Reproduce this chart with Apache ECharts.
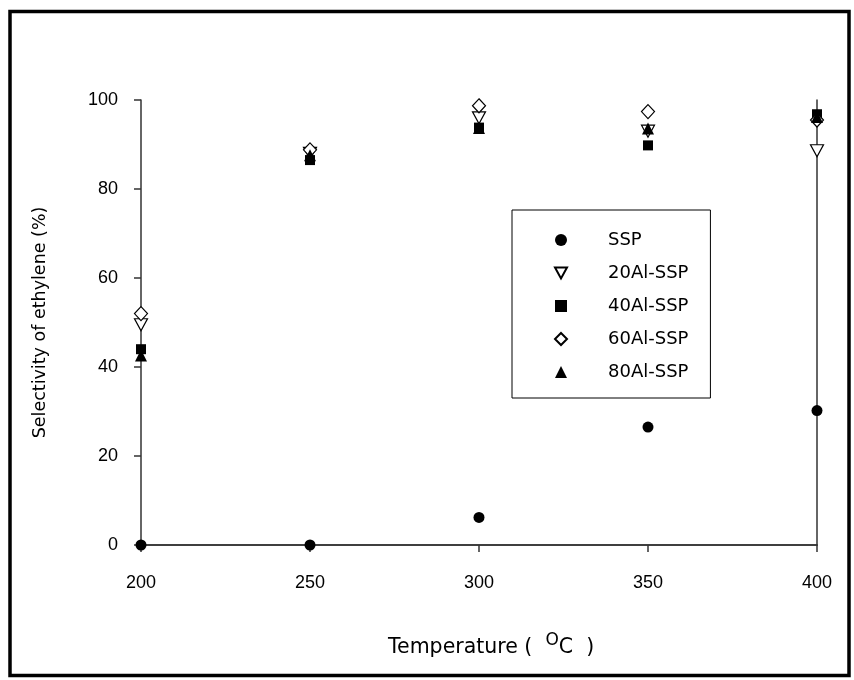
<!DOCTYPE html>
<html>
<head>
<meta charset="utf-8">
<script src="https://cdn.jsdelivr.net/npm/echarts@6/dist/echarts.min.js"></script>
<style>
html,body{margin:0;padding:0;background:#fff;}
#chart{width:854px;height:680px;}
</style>
</head>
<body>
<div id="chart"></div>
<script>
var temperatures = [200, 250, 300, 350, 400];
var xTicks = [200, 250, 300, 350, 400];
var yTicks = [0, 20, 40, 60, 80, 100];
var seriesNames = ['SSP', '20Al-SSP', '40Al-SSP', '60Al-SSP', '80Al-SSP'];
var ssp    = [0, 0, 6.2, 26.5, 30.2];
var al20   = [49.5, 88, 96, 93, 88.6];
var al40   = [44, 86.5, 93.8, 89.8, 96.8];
var al60   = [52, 88.8, 98.7, 97.4, 95.5];
var al80   = [42.6, 87.6, 93.7, 93.6, 96.2];

function pairs(vals){ return temperatures.map(function(t,i){ return [t, vals[i]]; }); }

var downTri = 'path://M0,0 L10,0 L5,9 Z';
var chart = echarts.init(document.getElementById('chart'), null, {renderer:'canvas'});
var labelFont = {color:'#000', fontFamily:'Liberation Sans', fontSize:18};
var option = {
  backgroundColor:'#fff',
  animation:false,
  graphic:[{
    type:'rect', z:100, silent:true,
    shape:{x:10, y:11.5, width:839, height:664},
    style:{fill:'none', stroke:'#000', lineWidth:3.5}
  },{
    type:'text', left:388, top:632,
    style:{
      text:'Temperature (  {sup|O}C  )',
      rich:{sup:{fontSize:17, verticalAlign:'top', padding:[0,0,14,0], fontFamily:'DejaVu Sans', fill:'#000'}},
      font:'20.5px "DejaVu Sans"', fill:'#000'
    }
  }],
  grid:{left:141, right:37, top:100, bottom:135, containLabel:false},
  legend:{
    orient:'vertical', left:512, top:210,
    data: seriesNames,
    backgroundColor:'#fff',
    borderColor:'#000', borderWidth:1,
    padding:[21, 22, 17, 42],
    itemWidth:12, itemHeight:12, itemGap:15,
    textStyle:{fontFamily:'DejaVu Sans', fontSize:18, color:'#000', padding:[0,0,0,36]}
  },
  xAxis:[{
    type:'value', min:200, max:400, interval:50,
    axisLine:{show:true, lineStyle:{color:'#333', width:1.5}},
    axisTick:{show:true, inside:false, length:7, lineStyle:{color:'#333', width:1.5}},
    axisLabel:Object.assign({margin:29, formatter:function(v){return xTicks.indexOf(v)>=0?String(v):'';}}, labelFont),
    splitLine:{show:false}
  },{
    type:'value', min:200, max:400, position:'top',
    axisLine:{show:true, lineStyle:{color:'#333', width:1.5}},
    axisTick:{show:false}, axisLabel:{show:false}, splitLine:{show:false}
  }],
  yAxis:[{
    type:'value', min:0, max:100, interval:20,
    axisLine:{show:true, lineStyle:{color:'#333', width:1.5}},
    axisTick:{show:true, inside:false, length:7, lineStyle:{color:'#333', width:1.5}},
    axisLabel:Object.assign({margin:23, formatter:function(v){return yTicks.indexOf(v)>=0?String(v):'';}}, labelFont),
    splitLine:{show:false},
    name:'Selectivity of ethylene (%)',
    nameLocation:'middle', nameGap:92,
    nameTextStyle:{fontFamily:'DejaVu Sans', fontSize:17.5, color:'#000'}
  },{
    type:'value', min:0, max:100, position:'right',
    axisLine:{show:true, lineStyle:{color:'#333', width:1.5}},
    axisTick:{show:false}, axisLabel:{show:false}, splitLine:{show:false}
  }],
  series:[
    {name:seriesNames[0], type:'scatter', data:pairs(ssp), symbol:'circle', symbolSize:11,
     itemStyle:{color:'#000', opacity:1}, clip:false},
    {name:seriesNames[1], type:'scatter', data:pairs(al20), symbol:downTri, symbolSize:[13,12],
     itemStyle:{color:'#fff', borderColor:'#000', borderWidth:1.2, opacity:1}, clip:false},
    {name:seriesNames[2], type:'scatter', data:pairs(al40), symbol:'rect', symbolSize:10,
     itemStyle:{color:'#000', opacity:1}, clip:false},
    {name:seriesNames[3], type:'scatter', data:pairs(al60), symbol:'diamond', symbolSize:[13,14],
     itemStyle:{color:'#fff', borderColor:'#000', borderWidth:1.2, opacity:1}, clip:false},
    {name:seriesNames[4], type:'scatter', data:pairs(al80), symbol:'triangle', symbolSize:12,
     itemStyle:{color:'#000', opacity:1}, clip:false}
  ]
};
chart.setOption(option);
</script>
</body>
</html>
